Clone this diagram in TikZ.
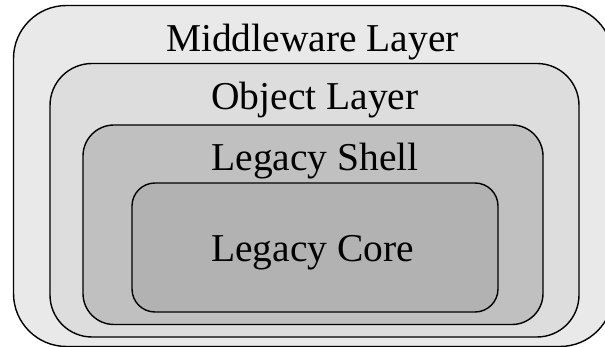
\documentclass[tikz,border=0pt]{standalone}
\usepackage{fontspec}
\setmainfont{Liberation Serif}
\begin{document}
\begin{tikzpicture}[x=1pt,y=-1pt,
  layer/.style={draw=black,line width=1.4pt,inner sep=0pt,rectangle},
  lbl/.style={anchor=base,inner sep=0pt,font=\fontsize{39.5}{42}\selectfont}]
\useasboundingbox (0,0) rectangle (605,347);
\node[layer,fill={rgb,255:red,233;green,233;blue,233},rounded corners=53pt,minimum width=599.5pt,minimum height=341pt] (outer) at (313.25,176) {};
\node[layer,fill={rgb,255:red,221;green,221;blue,221},rounded corners=42pt,minimum width=529pt,minimum height=273.5pt] (object) at (314.5,200.25) {};
\node[layer,fill={rgb,255:red,192;green,192;blue,192},rounded corners=31pt,minimum width=460pt,minimum height=199.5pt] (shell) at (313,224.75) {};
\node[layer,fill={rgb,255:red,178;green,178;blue,178},rounded corners=23pt,minimum width=366pt,minimum height=129pt] (core) at (315,247.5) {};
\node[lbl] (tmid) at (312.5,52) {Middleware Layer};
\node[lbl] (tobj) at (315,110) {Object Layer};
\node[lbl] (tshell) at (315,171) {Legacy Shell};
\node[lbl] (tcore) at (312.5,262) {Legacy Core};
\end{tikzpicture}
\end{document}
